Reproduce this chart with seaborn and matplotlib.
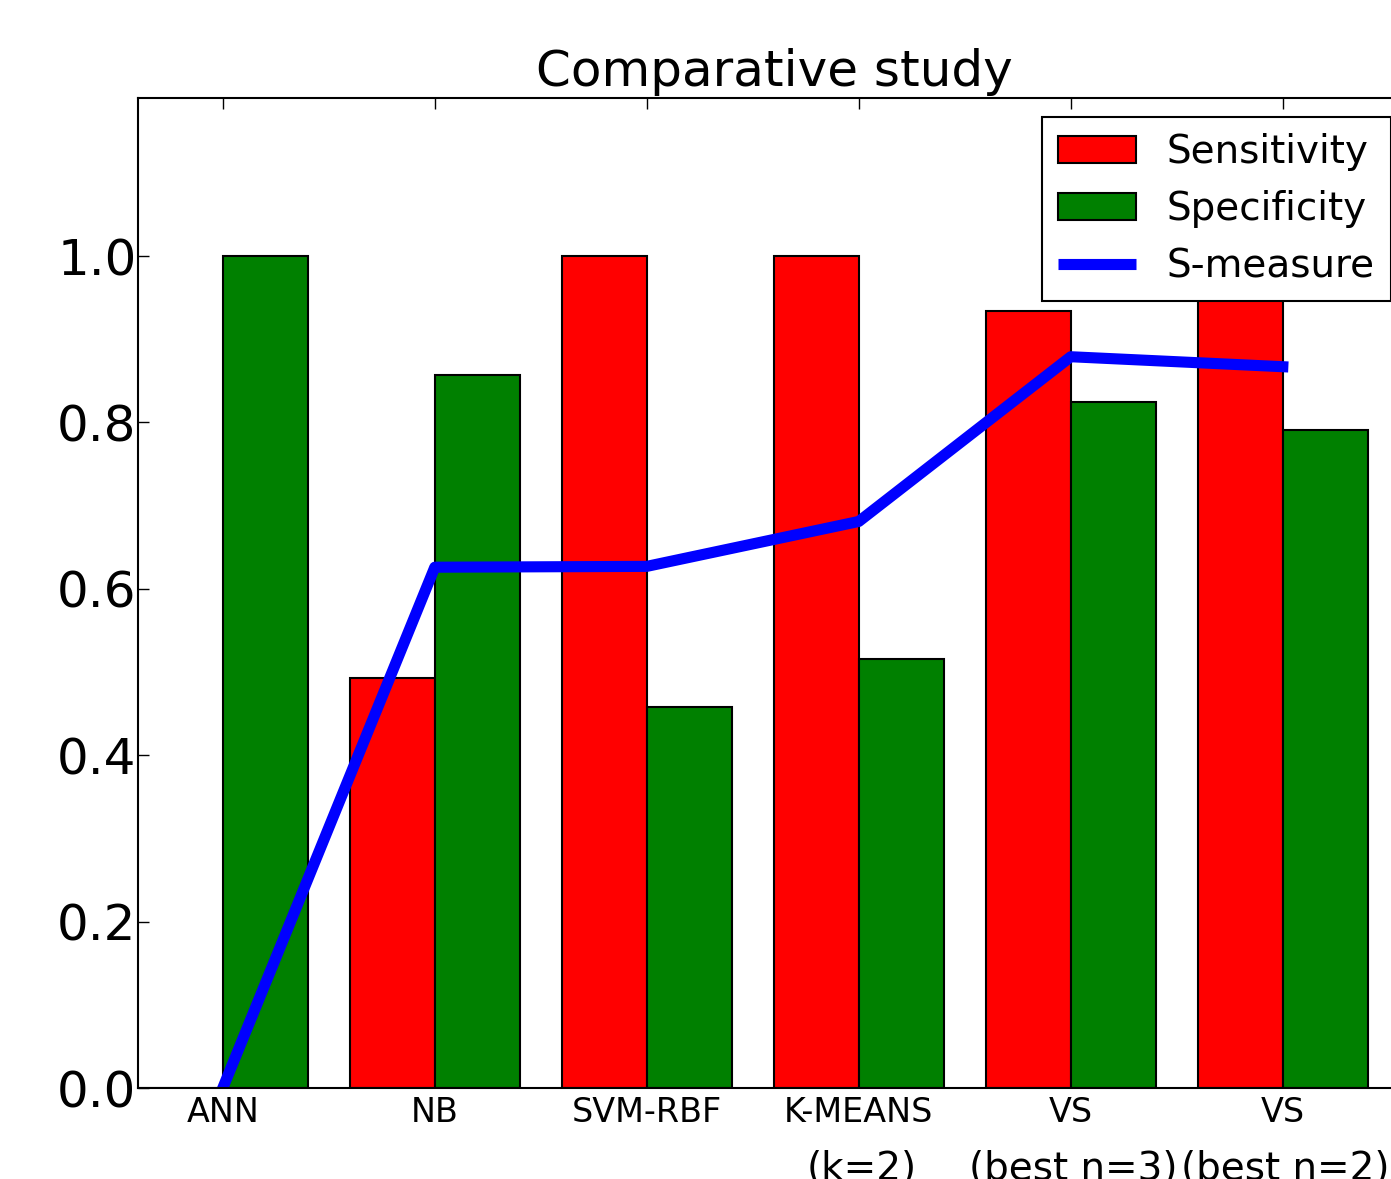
import numpy as np
import pandas as pd
import matplotlib
matplotlib.use("Agg")
import matplotlib.pyplot as plt
import seaborn as sns
from matplotlib.patches import Patch
from matplotlib.lines import Line2D

# ---- data ----
methods = ["ANN", "NB", "SVM-RBF", "K-MEANS", "VS", "VS "]
method_labels = ["ANN", "NB", "SVM-RBF", "K-MEANS", "VS", "VS"]
method_notes = ["", "", "", "(k=2)", "(best n=3)", "(best n=2)"]
sensitivity = [0.0, 0.493, 1.0, 1.0, 0.934, 0.97]
specificity = [1.0, 0.857, 0.458, 0.516, 0.825, 0.791]
s_measure = [0.0, 0.626, 0.627, 0.681, 0.879, 0.867]
metric_names = ["Sensitivity", "Specificity"]
line_name = "S-measure"
title = "Comparative study"
yticks = [0.0, 0.2, 0.4, 0.6, 0.8, 1.0]

df = pd.DataFrame({
    "method": methods * 2,
    "value": sensitivity + specificity,
    "metric": [metric_names[0]] * len(methods) + [metric_names[1]] * len(methods),
})

sns.set_style("ticks")
plt.rcParams["font.family"] = ["DejaVu Sans"]
plt.rcParams["text.color"] = "black"
plt.rcParams["xtick.color"] = "black"
plt.rcParams["ytick.color"] = "black"
plt.rcParams["axes.labelcolor"] = "black"

W, H = 1391, 1179
fig = plt.figure(figsize=(W / 100, H / 100), dpi=100)
ax = fig.add_axes([138 / W, 91 / H, 1272 / W, 990 / H])

colors = {"Sensitivity": "#ff0000", "Specificity": "#008000"}
sns.barplot(data=df, x="method", y="value", hue="metric", order=methods,
            hue_order=metric_names, palette=colors, saturation=1,
            edgecolor="black", linewidth=1.5, width=0.8, legend=False, ax=ax)

pos = np.arange(len(methods))
sns.lineplot(x=pos, y=s_measure, color="#0000ff", linewidth=8,
             solid_capstyle="projecting", sort=False, ax=ax, legend=False)

ax.set_xlim(-0.4, len(methods) - 0.4)
ax.set_ylim(0, 1.19)
ax.set_yticks(yticks)
ax.set_yticklabels([f"{v:.1f}" for v in yticks])
ax.set_xticks(pos)
ax.set_xticklabels(method_labels)
ax.set_xlabel("")
ax.set_ylabel("")

ax.tick_params(axis="both", direction="in", top=True, right=True,
               length=8, width=1, color="black", labelcolor="black")
ax.tick_params(axis="y", labelsize=36, pad=1)
ax.tick_params(axis="x", labelsize=24, pad=6)
for sp in ax.spines.values():
    sp.set_visible(True)
    sp.set_linewidth(1.5)
    sp.set_color("black")

# second line of the category labels
for x, note in zip(pos, method_notes):
    if note:
        ax.annotate(note, xy=(x, 0), xycoords=("data", "axes fraction"),
                    xytext=(2, -66), textcoords="offset points",
                    ha="center", va="baseline", fontsize=28,
                    color="black", annotation_clip=False)

ax.set_title(title, fontsize=36, pad=9, color="black")

handles = [Patch(facecolor=colors[m], edgecolor="black", linewidth=1.5, label=m)
           for m in metric_names]
handles.append(Line2D([], [], color="#0000ff", linewidth=8,
                      solid_capstyle="butt", label=line_name))
leg = ax.legend(handles=handles, loc="upper right", fontsize=28, fancybox=False,
                framealpha=1, edgecolor="black", borderaxespad=0.5)
leg.get_frame().set_linewidth(1.5)

fig.savefig("out.png", dpi=100)
